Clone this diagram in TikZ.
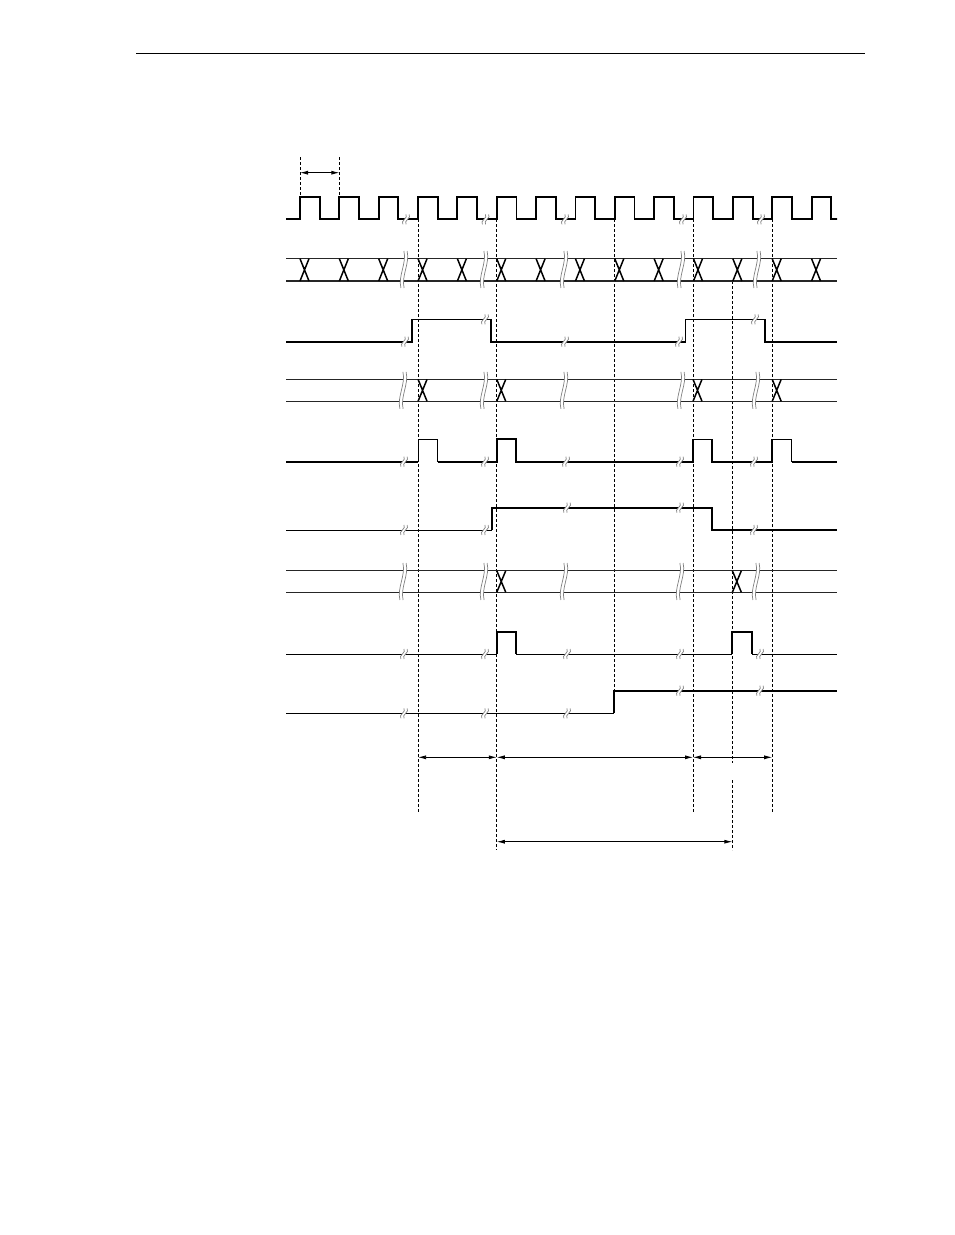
\documentclass[tikz,border=0pt]{standalone}
\usetikzlibrary{arrows.meta}
\tikzset{
  thk/.style={line width=1.9pt},
  thn/.style={line width=0.9pt},
  busline/.style={line width=1.4pt,black!85},
  xing/.style={line width=1.5pt},
  guide/.style={line width=0.8pt,dash pattern=on 3pt off 2pt},
  dim/.style={line width=0.8pt,{Latex[length=8pt,width=4pt]}-{Latex[length=8pt,width=4pt]}},
  brk/.style={gray,line width=0.7pt}
}
% break mark: x, y, half height
\newcommand\gapmark[3]{%
  \begin{scope}[shift={(#1,#2)}]
    \fill[white] (-0.1,-#3) .. controls (2.9,-#3/3) and (-6.1,#3/3) .. (-3.1,#3)
      -- (0.1,#3) .. controls (-2.9,#3/3) and (6.1,-#3/3) .. (3.1,-#3) -- cycle;
    \draw[brk] (-0.1,-#3) .. controls (2.9,-#3/3) and (-6.1,#3/3) .. (-3.1,#3);
    \draw[brk] (3.1,-#3) .. controls (6.1,-#3/3) and (-2.9,#3/3) .. (0.1,#3);
  \end{scope}}
\begin{document}
\begin{tikzpicture}[x=1pt,y=-1pt]
\fill[white] (0,0) rectangle (954,1235);
\draw[line width=1.2pt] (136,53.3) -- (865,53.3);

% guides
\draw[guide] (300,157) -- (300,196.7);
\draw[guide] (339.35,157) -- (339.35,196.7);
\draw[guide] (418.05,219.3) -- (418.05,814);
\draw[guide] (496.75,219.3) -- (496.75,850);
\draw[guide] (614.4,219.3) -- (614.4,690.7);
\draw[guide] (693,219.3) -- (693,814);
\draw[guide] (732.35,281) -- (732.35,763);
\draw[guide] (732.35,780) -- (732.35,850);
\draw[guide] (772.2,219.3) -- (772.2,814);

% clock
\begin{scope}
\clip (286,185) rectangle (837,230);
\foreach \k in {0,...,13}
  \draw[thk] (280.35+39.35*\k,219.3) -- ++(19.65,0) -- ++(0,-22.6) -- ++(19.7,0) -- ++(0,22.6) -- ++(19.65,0);
\end{scope}

% data buses
\foreach \yt/\yb in {258.7/281,379.3/401.3,570.7/592.3}
  \draw[busline] (286,\yt) -- (837,\yt) (286,\yb) -- (837,\yb);
\foreach \k in {0,...,13}
  \draw[xing] (300+39.35*\k,258.7) -- ++(9,22.3) (300+39.35*\k,281) -- ++(9,-22.3);
\foreach \x in {418.05,496.75,693,772.2}
  \draw[xing] (\x,379.3) -- ++(9,22) (\x,401.3) -- ++(9,-22);
\foreach \x in {496.75,732.35}
  \draw[xing] (\x,570.7) -- ++(9,21.6) (\x,592.3) -- ++(9,-21.6);

% strobe
\draw[thk] (286,341.7) -- (411.7,341.7) -- (411.7,319.3);
\draw[thn] (411.7,319.3) -- (491,319.3);
\draw[thk] (491,319.3) -- (491,341.7) -- (685.5,341.7) -- (685.5,319.3);
\draw[thn] (685.5,319.3) -- (765,319.3);
\draw[thk] (765,319.3) -- (765,341.7) -- (837,341.7);

% pulses
\draw[thk] (286,461.7) -- (418.05,461.7);
\draw[thn] (418.05,461.7) -- (418.05,439.3) -- (437.5,439.3) -- (437.5,461.7);
\draw[thk] (437.5,461.7) -- (496.75,461.7) -- (496.75,439.3) -- (516.4,439.3) -- (516.4,461.7) -- (693,461.7) -- (693,439.3);
\draw[thn] (693,439.3) -- (712.3,439.3);
\draw[thk] (712.3,439.3) -- (712.3,461.7) -- (772.2,461.7) -- (772.2,439.3);
\draw[thn] (772.2,439.3) -- (791.5,439.3) -- (791.5,461.7);
\draw[thk] (791.5,461.7) -- (837,461.7);

% busy
\draw[thn] (286,530) -- (491.7,530);
\draw[thk] (491.7,530) -- (491.7,507.7) -- (712.3,507.7) -- (712.3,530) -- (837,530);

% ack
\draw[thn] (286,654) -- (496.75,654);
\draw[thk] (496.75,654) -- (496.75,631.7) -- (516.4,631.7) -- (516.4,654);
\draw[thn] (516.4,654) -- (732.35,654);
\draw[thk] (732.35,654) -- (732.35,631.7) -- (752,631.7) -- (752,654);
\draw[thn] (752,654) -- (837,654);

% flag
\draw[thn] (286,713.3) -- (614.4,713.3);
\draw[thk] (614.4,713.3) -- (614.4,690.7) -- (837,690.7);

% breaks
\foreach \x in {406,485.5,565,683,761} \gapmark{\x}{219.3}{5};
\foreach \x in {404,484,564,681,757} \gapmark{\x}{269.5}{18.5};
\foreach \x/\y in {405/341.7,485/319.3,565/341.7,679/341.7,755/319.3} \gapmark{\x}{\y}{5};
\foreach \x in {403,484,564,681,756} \gapmark{\x}{390.3}{18.5};
\foreach \x in {404,485,566,680,754} \gapmark{\x}{461.7}{5};
\foreach \x/\y in {404/530,485/530,567/507.7,680/507.7,754/530} \gapmark{\x}{\y}{5};
\foreach \x in {403,484,564,680,756} \gapmark{\x}{581.5}{18.5};
\foreach \x in {404,485,567,680,760} \gapmark{\x}{654}{5};
\foreach \x/\y in {404/713.3,485/713.3,567/713.3,680/690.7,760/690.7} \gapmark{\x}{\y}{5};

% dimensions
\coordinate (p0) at (300,172.7);
\coordinate (p1) at (339.35,172.7);
\coordinate (d1) at (418.05,757.3);
\coordinate (d2) at (496.75,757.3);
\coordinate (d4) at (693,757.3);
\coordinate (d6) at (772.2,757.3);
\coordinate (e2) at (496.75,841.7);
\coordinate (e5) at (732.35,841.7);
\draw[dim] (p0) -- (p1);
\draw[dim] (d1) -- (d2);
\draw[dim] (d2) -- (d4);
\draw[dim] (d4) -- (d6);
\draw[dim] (e2) -- (e5);
\end{tikzpicture}
\end{document}
